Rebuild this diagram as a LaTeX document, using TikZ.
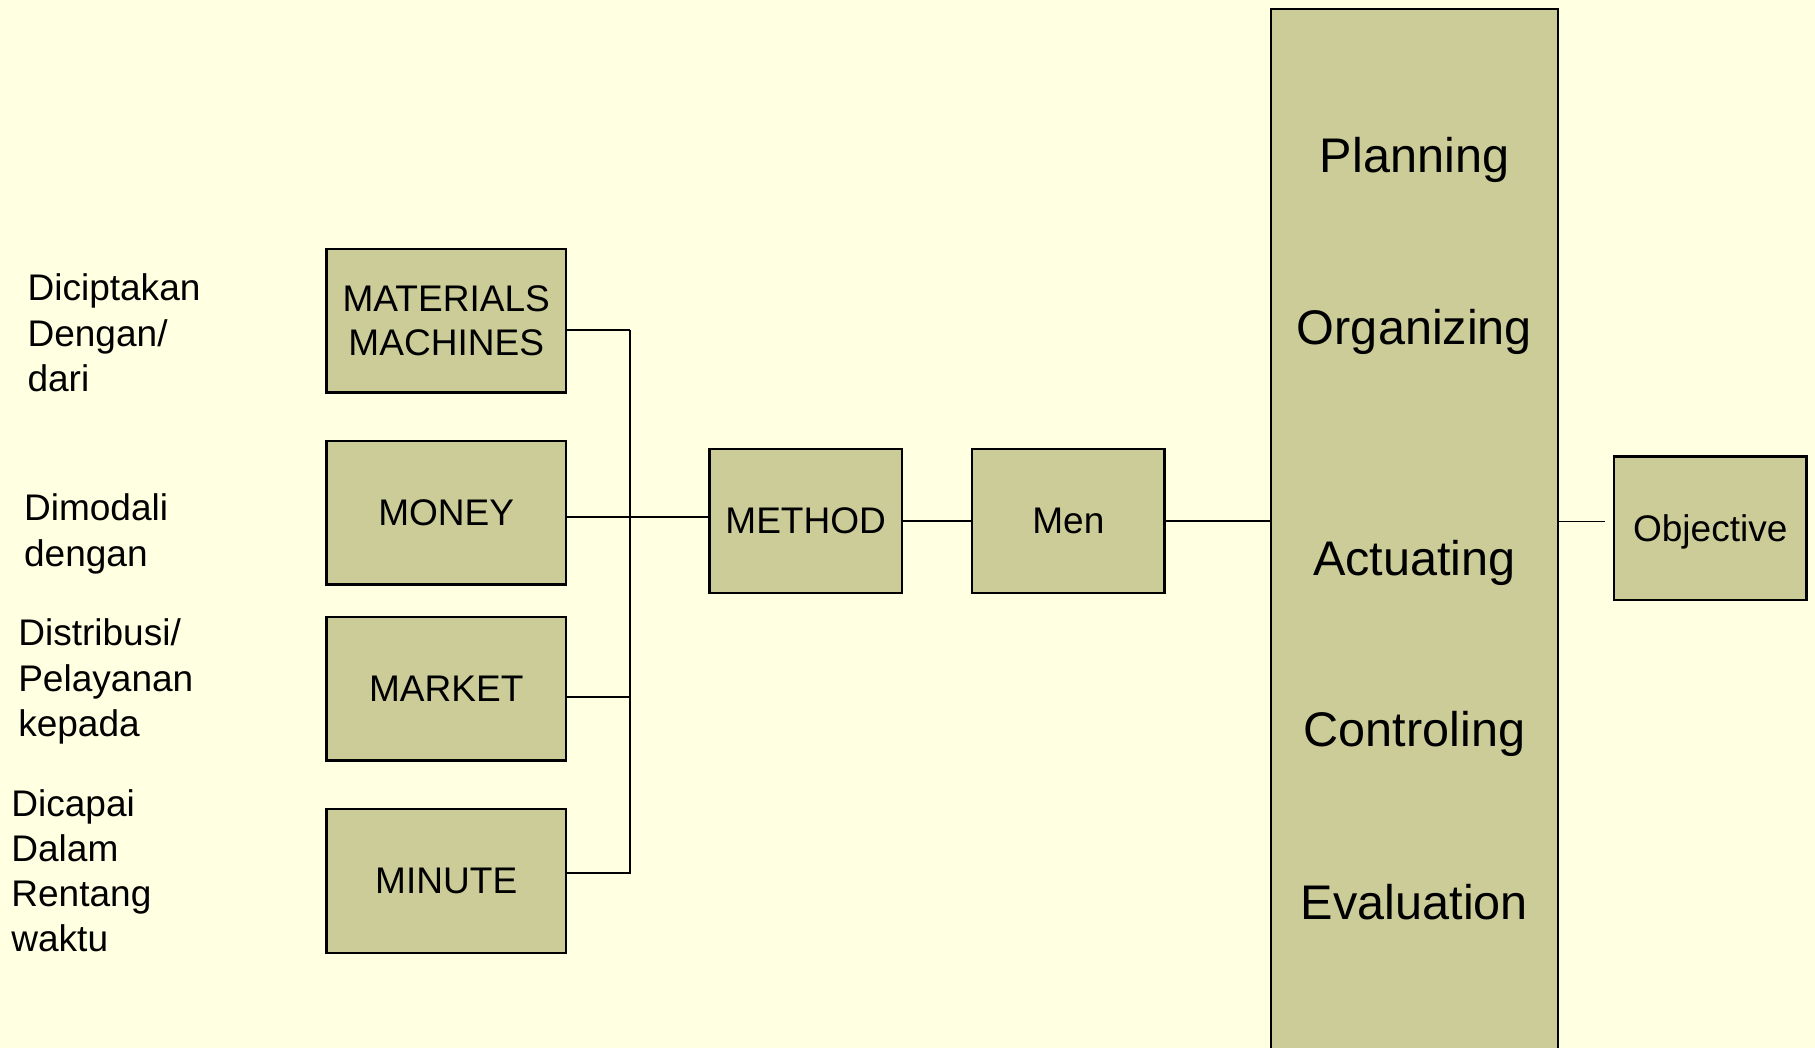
\documentclass[tikz,border=0pt]{standalone}
\usepackage{fontspec}
\setmainfont{Liberation Sans}
\usetikzlibrary{positioning}
\definecolor{slidebg}{HTML}{FFFFE1}
\definecolor{boxfill}{HTML}{CCCC99}

\begin{document}
\begin{tikzpicture}[x=0.5pt,y=-0.5pt,line width=0.8pt]
 \tikzstyle{res node}=[rectangle,draw,line width=1pt,fill=boxfill,minimum width=103.5pt,minimum height=62pt,align=center,font=\fontsize{16pt}{19pt}\selectfont]
 \tikzstyle{step node}=[res node,minimum width=83pt]
 \tikzset{
 	func label/.style={anchor=base,font=\fontsize{21pt}{25pt}\selectfont},
 	side label/.style={anchor=north west,inner sep=0pt,align=left,font=\fontsize{16pt}{19.5pt}\selectfont}
 }

       \fill[slidebg] (0,0) rectangle (1568,905);
       \useasboundingbox (0,0) rectangle (1568,905);

       \node[res node] (mat) at (385.5,277) {MATERIALS\\MACHINES};
       \node[res node] (mon) [below=20pt of mat] {MONEY};
       \node[res node] (mkt) [below=13pt of mon] {MARKET};
       \node[res node] (min) [below=20pt of mkt] {MINUTE};

       \node[step node] (meth) at (696,450) {METHOD};
       \node[step node] (men) [right=29.5pt of meth] {Men};
       \node[res node,minimum width=124pt,minimum height=460pt,anchor=north] (mgmt) at (1222,7) {};
       \node[step node,text depth=0pt] (obj) at (1477.5,456.5) {Objective};

       \foreach \word/\y in {Planning/149,Organizing/298,Actuating/497,Controling/645,Evaluation/794}
         \node[func label] (\word) at (1222,\y) {\word};

       \node[side label] (made) at (23,236) {Diciptakan\\Dengan/\\dari};
       \node[side label] (fund) at (20,426) {Dimodali\\dengan};
       \node[side label] (dist) at (15,534) {Distribusi/\\Pelayanan\\kepada};
       \node[side label] (time) at (9,681) {Dicapai\\Dalam\\Rentang\\waktu};

       \coordinate (jt) at (544,285);

     \draw ([yshift=-4pt]mat.east) -- (jt);
     \draw ([yshift=3.5pt]min.east) -| (jt);
     \draw ([yshift=-2pt]mon.east) -- ([yshift=-2pt]mon.east -| meth.west);
     \draw ([yshift=-3.5pt]mkt.east) -- ([yshift=-3.5pt]mkt.east -| jt);
     \draw (meth) -- (men);
     \draw (men.east) -- (men.east -| mgmt.west);
     \draw ([yshift=3pt]obj.west -| mgmt.east) -- ([xshift=-3.5pt,yshift=3pt]obj.west);
 \end{tikzpicture}
\end{document}
